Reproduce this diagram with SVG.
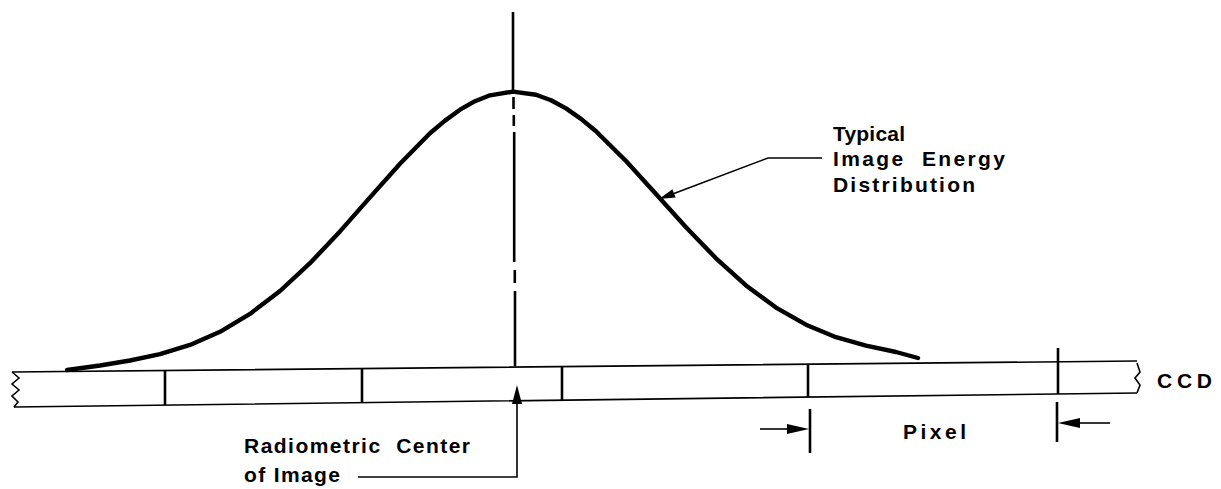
<svg xmlns="http://www.w3.org/2000/svg" width="1221" height="489" viewBox="0 0 1221 489">
<defs>
<style>
.ln{fill:none;stroke:#000;stroke-width:1.6;stroke-linecap:butt}
.th{fill:none;stroke:#000;stroke-width:2.6}
.curve{fill:none;stroke:#000;stroke-width:4.4;stroke-linejoin:round;stroke-linecap:round}
.txt{font-family:"Liberation Sans",Arial,sans-serif;font-weight:bold;font-size:21px;fill:#000}
.head{fill:#000;stroke:none}
</style>
</defs>
<rect width="1221" height="489" fill="#fff"/>
<g id="energy-curve">
<polyline class="curve" points="67,370 100,365.5 130,360.5 160,354.2 190,344.9 220,331.8 250,313.9 280,291 310,263.2 340,231.4 370,197.4 400,163.7 430,133.3 445,120.6 460,109.7 475,101.2 490,95.3 513,91.6 536,94.8 551,100.3 566,108.4 581,118.9 596,131.3 626,161 656,193.9 686,227.2 716,258.3 746,285.4 776,307.6 806,324.7 836,337.2 866,345.7 896,352 918,358"/>
</g>
<g id="ccd-strip">
<path class="ln" d="M12,372 L1137,361 M14,407 L1137,393"/>
<path class="ln" d="M12,372 L19,378 L12,384 L19,390 L12,396 L18,402 L14,407"/>
<path class="ln" d="M1137,363 L1140,372 L1135,378 L1140,385 L1137,393"/>
<path class="th" d="M165,370.5 V405 M362,368.5 V403 M562,366.5 V400 M808,364 V397 M1058,348 V394"/>
</g>
<g id="center-line">
<path class="th" d="M513,12 V92"/>
<path class="th" d="M513.5,97 V109 M513.8,115 V126 M514.2,132 V262 M514.8,270 V283 M515,291 V366"/>
</g>
<g id="connectors">
<path class="ln" d="M822,158 H768 L674,193.4"/>
<polygon class="head" points="659,199 675.6,197.6 672.4,189.2"/>
<path class="ln" d="M358,477 H517 V400"/>
<polygon class="head" points="517,385 512,404 522,404"/>
<path class="th" d="M810,409 V453 M1057,402 V442"/>
<path class="ln" d="M760,429 H790"/>
<polygon class="head" points="809,429 787,424 787,434"/>
<path class="ln" d="M1110,423 H1078"/>
<polygon class="head" points="1058,423 1080,418 1080,428"/>
</g>
<g id="labels">
<text class="txt" x="833" y="141" textLength="72" lengthAdjust="spacing">Typical</text>
<text class="txt" x="833" y="166" xml:space="preserve" textLength="172" lengthAdjust="spacing">Image  Energy</text>
<text class="txt" x="833" y="192" textLength="142" lengthAdjust="spacing">Distribution</text>
<text class="txt" x="1157" y="388" textLength="55" lengthAdjust="spacing">CCD</text>
<text class="txt" x="903" y="439" textLength="63" lengthAdjust="spacing">Pixel</text>
<text class="txt" x="244" y="453" xml:space="preserve" textLength="226" lengthAdjust="spacing">Radiometric  Center</text>
<text class="txt" x="244" y="482" textLength="96" lengthAdjust="spacing">of Image</text>
</g>
</svg>
